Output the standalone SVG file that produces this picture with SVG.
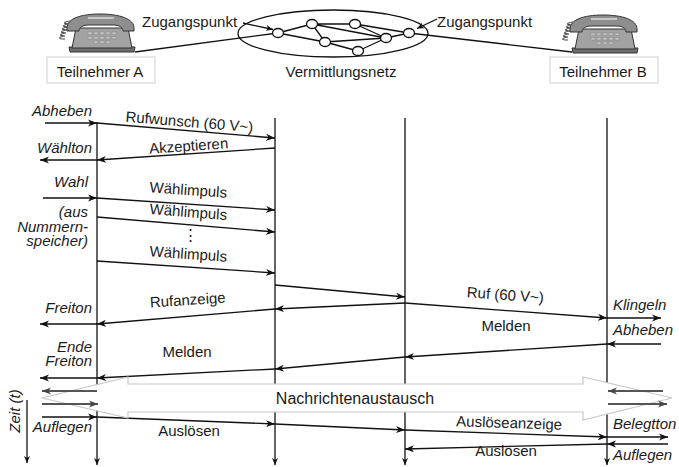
<svg xmlns="http://www.w3.org/2000/svg" width="679" height="467" viewBox="0 0 679 467">
  <style>
    text { font-family: "Liberation Sans", Arial, sans-serif; font-size: 15px; fill: #1a1a1a; }
    .it { font-style: italic; }
    .r { text-anchor: end; }
    .m { text-anchor: middle; }
    .ln { stroke: #111; stroke-width: 1.3; fill: none; }
    .msg { stroke: #111; stroke-width: 1.3; fill: none; marker-end: url(#ah); }
    .gmsg { stroke: #555; stroke-width: 2; fill: none; marker-end: url(#ahg); }
    .box { fill: #fff; stroke: #d0d0d0; stroke-width: 1; }
    .nd { fill: #fff; stroke: #111; stroke-width: 1.3; }
  </style>
  <defs>
    <marker id="ah" markerUnits="userSpaceOnUse" markerWidth="10" markerHeight="8" refX="9" refY="4" orient="auto">
      <path d="M0,0.5 L9,4 L0,7.5 L2.5,4 Z" fill="#111"/>
    </marker>
    <marker id="ahg" markerUnits="userSpaceOnUse" markerWidth="10" markerHeight="8" refX="9" refY="4" orient="auto">
      <path d="M0,0.5 L9,4 L0,7.5 L2.5,4 Z" fill="#444"/>
    </marker>
    <marker id="ahs" markerUnits="userSpaceOnUse" markerWidth="8" markerHeight="7" refX="7" refY="3.5" orient="auto">
      <path d="M0,0.5 L7,3.5 L0,6.5 L2,3.5 Z" fill="#111"/>
    </marker>
    <!-- desk telephone -->
    <g id="phone">
      <path d="M8,10 c-7,1 -7,3 -1,3 c-7,1 -7,3 -1,3 c-7,1 -7,3 -1,3 c-7,1 -7,3 -1,3 c-7,1 -7,3 -1,3 c-7,1 -7,3 0,3" fill="none" stroke="#444" stroke-width="1.2"/>
      <path d="M7,36 L73,36 L72,41 L8,41 Z" fill="#6e6e6e" stroke="#333" stroke-width="1"/>
      <path d="M10,37 L14,17 L66,17 L70,37 Z" fill="#a2a2a2" stroke="#333" stroke-width="1"/>
      <path d="M5,17 C5,8 18,3 38,3 C58,3 72,8 72,17 L72,20 L61,20 C61,16 57,14 51,14 L27,14 C21,14 17,16 17,20 L5,20 Z" fill="#8e8e8e" stroke="#333" stroke-width="1"/>
      <path d="M26,7 L52,7" stroke="#c8c8c8" stroke-width="2"/>
      <g fill="#c4c4c4" stroke="#888" stroke-width="0.5">
        <rect x="26" y="21" width="4" height="2.5"/><rect x="32" y="21" width="4" height="2.5"/><rect x="38" y="21" width="4" height="2.5"/><rect x="44" y="21" width="4" height="2.5"/><rect x="50" y="21" width="4" height="2.5"/>
        <rect x="26" y="25.5" width="4" height="2.5"/><rect x="32" y="25.5" width="4" height="2.5"/><rect x="38" y="25.5" width="4" height="2.5"/><rect x="44" y="25.5" width="4" height="2.5"/><rect x="50" y="25.5" width="4" height="2.5"/>
        <rect x="32" y="30" width="4" height="2.5"/><rect x="38" y="30" width="4" height="2.5"/><rect x="44" y="30" width="4" height="2.5"/>
      </g>
    </g>
  </defs>

  <rect width="679" height="467" fill="#fff"/>

  <!-- top: subscribers and switching network -->
  <g id="net-links" class="ln">
    <path d="M135,52 L278,33"/>
    <path d="M409,33 L572,52"/>
    <path d="M278,33 L312,24 M278,33 L325,42 M312,24 L325,42 M312,24 L355,24 M312,24 L386,38 M355,24 L386,38 M355,24 L409,33 M325,42 L386,38 M325,42 L358,51 M358,51 L386,38 M386,38 L409,33"/>
    <path d="M243,23 L273,29.5" style="marker-end:url(#ahs)"/>
    <path d="M437,19 L417,28.5" style="marker-end:url(#ahs)"/>
  </g>
  <g id="vermittlungsnetz">
    <ellipse cx="333" cy="33.5" rx="95" ry="23.5" fill="none" stroke="#111" stroke-width="1.3"/>
    <ellipse class="nd" cx="278" cy="33" rx="5.5" ry="4.5"/>
    <ellipse class="nd" cx="312" cy="24" rx="5.5" ry="4.5"/>
    <ellipse class="nd" cx="355" cy="24" rx="5.5" ry="4.5"/>
    <ellipse class="nd" cx="325" cy="42" rx="5.5" ry="4.5"/>
    <ellipse class="nd" cx="358" cy="51" rx="5.5" ry="4.5"/>
    <ellipse class="nd" cx="386" cy="38" rx="5.5" ry="4.5"/>
    <ellipse class="nd" cx="409" cy="33" rx="5.5" ry="4.5"/>
    <text class="m" x="341" y="76.5">Vermittlungsnetz</text>
  </g>
  <g id="zugang-a"><text x="142" y="27">Zugangspunkt</text></g>
  <g id="zugang-b"><text x="437" y="27">Zugangspunkt</text></g>
  <g id="teilnehmer-a">
    <use href="#phone" x="62" y="11"/>
    <rect class="box" x="47" y="57" width="108" height="26"/>
    <text class="m" x="100" y="76.5">Teilnehmer A</text>
  </g>
  <g id="teilnehmer-b">
    <use href="#phone" x="565" y="12"/>
    <rect class="box" x="550" y="57" width="108" height="26"/>
    <text class="m" x="603" y="76.5">Teilnehmer B</text>
  </g>

  <!-- lifelines -->
  <g id="lifelines" class="ln" style="marker-end:url(#ahs)">
    <path d="M97,122 L97,465"/>
    <path d="M275,118 L275,465"/>
    <path d="M405,118 L405,465"/>
    <path d="M607,118 L607,465"/>
    <path d="M27,400 L27,463"/>
  </g>

  <!-- messages -->
  <g id="connectors">
    <path class="msg" d="M45,123 L97,123"/>
    <path class="msg" d="M97,123 L275,138"/>
    <path class="msg" d="M275,148 L97,160"/>
    <path class="msg" d="M97,160 L40,160"/>
    <path class="msg" d="M43,198 L97,198"/>
    <path class="msg" d="M97,198 L275,210"/>
    <path class="msg" d="M97,217 L275,232"/>
    <path class="msg" d="M97,261 L275,273"/>
    <path class="msg" d="M275,285 L405,297"/>
    <path class="msg" d="M405,303 L607,318"/>
    <path class="msg" d="M607,318 L661,318"/>
    <path class="msg" d="M405,303 L275,309"/>
    <path class="msg" d="M275,309 L97,324"/>
    <path class="msg" d="M97,324 L40,324"/>
    <path class="msg" d="M661,344 L607,344"/>
    <path class="msg" d="M607,344 L405,357"/>
    <path class="msg" d="M405,357 L275,369"/>
    <path class="msg" d="M275,369 L97,378"/>
    <path class="msg" d="M97,378 L40,378"/>
    <path class="msg" d="M42,417 L97,417"/>
    <path class="msg" d="M97,417 L275,424"/>
    <path class="msg" d="M275,424 L405,430"/>
    <path class="msg" d="M405,430 L607,437"/>
    <path class="msg" d="M607,437 L668,437"/>
    <path class="msg" d="M668,444 L607,444"/>
    <path class="msg" d="M607,444 L405,449"/>
  </g>

  <!-- data exchange phase -->
  <g id="nachrichtenaustausch">
    <path d="M42,398 L128,377 L128,384 L583,384 L583,377 L672,398 L583,420 L583,412 L128,412 L128,418 Z" fill="#fff" stroke="#c8c8c8" stroke-width="1.2"/>
    <path class="gmsg" d="M97,391 L42,391"/>
    <path class="gmsg" d="M42,404 L98,404"/>
    <path class="gmsg" d="M663,391 L608,391"/>
    <path class="gmsg" d="M608,404 L667,404"/>
    <text class="m" x="355" y="404" style="font-size:16px">Nachrichtenaustausch</text>
  </g>

  <!-- message labels -->
  <g id="labels">
    <text class="m" x="189" y="127" transform="rotate(4.8 189 127)">Rufwunsch (60 V~)</text>
    <text class="m" x="189" y="151" transform="rotate(-3.9 189 151)">Akzeptieren</text>
    <text class="m" x="188" y="195" transform="rotate(3.9 188 195)">Wählimpuls</text>
    <text class="m" x="188" y="217" transform="rotate(4.5 188 217)">Wählimpuls</text>
    <text class="m" x="190" y="240">⋮</text>
    <text class="m" x="188" y="259" transform="rotate(3.9 188 259)">Wählimpuls</text>
    <text class="m" x="188" y="305" transform="rotate(-3.7 188 305)">Rufanzeige</text>
    <text class="m" x="505" y="300" transform="rotate(4 505 300)">Ruf (60 V~)</text>
    <text class="m" x="506" y="331">Melden</text>
    <text class="m" x="187" y="357">Melden</text>
    <text class="m" x="189" y="436">Auslösen</text>
    <text class="m" x="509" y="428" transform="rotate(2 509 428)">Auslöseanzeige</text>
    <text class="m" x="506" y="456">Auslösen</text>
  </g>

  <!-- subscriber actions -->
  <g id="actions-a">
    <text class="it r" x="92" y="116">Abheben</text>
    <text class="it r" x="92" y="153">Wählton</text>
    <text class="it r" x="88" y="187">Wahl</text>
    <text class="it r" x="88" y="217">(aus</text>
    <text class="it r" x="88" y="231.5">Nummern-</text>
    <text class="it r" x="88" y="245.5">speicher)</text>
    <text class="it r" x="92" y="313">Freiton</text>
    <text class="it r" x="92" y="352">Ende</text>
    <text class="it r" x="92" y="366">Freiton</text>
    <text class="it r" x="92" y="432">Auflegen</text>
  </g>
  <g id="actions-b">
    <text class="it" x="613" y="310">Klingeln</text>
    <text class="it" x="613" y="335">Abheben</text>
    <text class="it" x="613" y="429">Belegtton</text>
    <text class="it" x="613" y="460">Auflegen</text>
  </g>
  <g id="zeitachse">
    <text class="it m" x="20" y="411" transform="rotate(-90 20 411)">Zeit (t)</text>
  </g>
</svg>
